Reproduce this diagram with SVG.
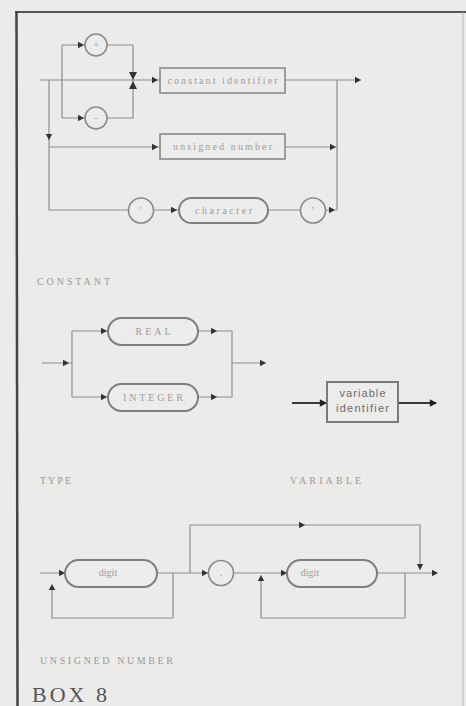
<svg xmlns="http://www.w3.org/2000/svg" width="466" height="706" viewBox="0 0 466 706">
<style>
.ln{fill:none;stroke:#8e8e8e;stroke-width:1.2}
.dk{fill:none;stroke:#3a3a3a;stroke-width:1.8}
.bx{fill:#ececeb;stroke:#8a8a8a;stroke-width:1.6}
.rb{fill:#ececeb;stroke:#7e7e7e;stroke-width:2}
.t{font-family:"Liberation Serif",serif;font-size:10px;fill:#9c9c9c;text-anchor:middle}
.lab{font-family:"Liberation Serif",serif;font-size:10px;fill:#9a9a9a}
.vt{font-family:"Liberation Sans",sans-serif;font-size:11px;fill:#6a6a6a;text-anchor:middle}
.ah{fill:#333}
</style>
<defs>
<path id="ah" d="M0,0 L-6,-3.2 L-6,3.2 Z"/>
</defs>
<rect x="0" y="0" width="466" height="706" fill="#ebebe9"/>
<g id="frame">
<line x1="15" y1="12" x2="466" y2="12" stroke="#555" stroke-width="2"/>
<line x1="16.5" y1="11" x2="17.5" y2="706" stroke="#444" stroke-width="2.5"/>
<line x1="463" y1="12" x2="463" y2="706" stroke="#b4b4b4" stroke-width="1"/>
</g>
<g id="connectors">
<!-- CONSTANT -->
<path class="ln" d="M40,80 H160"/>
<path class="ln" d="M62,45 V118 M62,45 H85 M62,118 H85"/>
<path class="ln" d="M107,45 H133 V118 H107"/>
<path class="ln" d="M285,80 H361"/>
<path class="ln" d="M337,80 V210"/>
<path class="ln" d="M49,80 V210 H128"/>
<path class="ln" d="M49,147 H160 M285,147 H337"/>
<path class="ln" d="M153.5,210 H179 M268,210 H300.5 M325.5,210 H337"/>
<path class="ah" d="M129,72 H137 L133,80 Z M129,89 H137 L133,81 Z"/>
<use href="#ah" class="ah" transform="translate(84,45)"/>
<use href="#ah" class="ah" transform="translate(84,118)"/>
<use href="#ah" class="ah" transform="translate(158,80)"/>
<use href="#ah" class="ah" transform="translate(361,80)"/>
<use href="#ah" class="ah" transform="translate(49,140) rotate(90)"/>
<use href="#ah" class="ah" transform="translate(158,147)"/>
<use href="#ah" class="ah" transform="translate(336,147)"/>
<use href="#ah" class="ah" transform="translate(177,210)"/>
<use href="#ah" class="ah" transform="translate(335,210)"/>
<!-- TYPE -->
<path class="ln" d="M42,363 H72 M72,331 V397 M72,331 H108 M72,397 H108"/>
<path class="ln" d="M198,331 H232 V397 H198 M232,363 H266"/>
<use href="#ah" class="ah" transform="translate(69,363)"/>
<use href="#ah" class="ah" transform="translate(107,331)"/>
<use href="#ah" class="ah" transform="translate(107,397)"/>
<use href="#ah" class="ah" transform="translate(217,331)"/>
<use href="#ah" class="ah" transform="translate(217,397)"/>
<use href="#ah" class="ah" transform="translate(266,363)"/>
<!-- VARIABLE -->
<path class="dk" d="M292,403 H327 M398,403 H436"/>
<use href="#ah" transform="translate(327,403) scale(1.2)" fill="#222"/>
<use href="#ah" transform="translate(437,403) scale(1.2)" fill="#222"/>
<!-- UNSIGNED NUMBER -->
<path class="ln" d="M40,573 H65 M157,573 H208.5"/>
<path class="ln" d="M173,573 V618 H52 V586"/>
<path class="ln" d="M190,573 V525 H420 V570"/>
<path class="ln" d="M233.5,573 H287 M377,573 H437"/>
<path class="ln" d="M405,573 V618 H261 V577"/>
<use href="#ah" class="ah" transform="translate(65,573)"/>
<use href="#ah" class="ah" transform="translate(52,584) rotate(-90)"/>
<use href="#ah" class="ah" transform="translate(305,525)"/>
<use href="#ah" class="ah" transform="translate(420,570) rotate(90)"/>
<use href="#ah" class="ah" transform="translate(208,573)"/>
<use href="#ah" class="ah" transform="translate(287,573)"/>
<use href="#ah" class="ah" transform="translate(261,575) rotate(-90)"/>
<use href="#ah" class="ah" transform="translate(438,573)"/>
</g>
<g id="plus"><circle class="bx" cx="96" cy="45" r="11"/><text class="t" x="96" y="48">+</text></g>
<g id="minus"><circle class="bx" cx="96" cy="118" r="11"/><text class="t" x="96" y="121">-</text></g>
<g id="constant-identifier"><rect class="bx" x="160" y="68" width="125" height="25"/><text class="t" x="222.5" y="84" textLength="110" lengthAdjust="spacing">constant identifier</text></g>
<g id="unsigned-number"><rect class="bx" x="160" y="134" width="125" height="25"/><text class="t" x="222.5" y="150" textLength="99" lengthAdjust="spacing">unsigned number</text></g>
<g id="quote-open"><circle class="bx" cx="141" cy="210.5" r="12.5"/><text class="t" x="141" y="214">'</text></g>
<g id="character"><rect class="rb" x="179" y="198" width="89" height="25" rx="12.5"/><text class="t" x="223.5" y="214" textLength="57" lengthAdjust="spacing">character</text></g>
<g id="quote-close"><circle class="bx" cx="313" cy="210.5" r="12.5"/><text class="t" x="313" y="214">'</text></g>
<text class="lab" x="37" y="285" textLength="73" lengthAdjust="spacing">CONSTANT</text>
<g id="real"><rect class="rb" x="108" y="318" width="90" height="27" rx="13.5"/><text class="t" x="153" y="335" textLength="35" lengthAdjust="spacing">REAL</text></g>
<g id="integer"><rect class="rb" x="108" y="384" width="90" height="27" rx="13.5"/><text class="t" x="153" y="401" textLength="60" lengthAdjust="spacing">INTEGER</text></g>
<g id="variable-identifier"><rect x="327" y="382" width="71" height="40" fill="#ececeb" stroke="#7a7a7a" stroke-width="2"/><text class="vt" x="362.5" y="397" textLength="46" lengthAdjust="spacing">variable</text><text class="vt" x="362.5" y="412" textLength="53" lengthAdjust="spacing">identifier</text></g>
<text class="lab" x="40" y="484" textLength="31" lengthAdjust="spacing">TYPE</text>
<text class="lab" x="290" y="484" textLength="71" lengthAdjust="spacing">VARIABLE</text>
<g id="digit1"><rect class="rb" x="65" y="560" width="92" height="27" rx="13.5"/><text class="t" x="108" y="576" font-size="8">digit</text></g>
<g id="dot"><circle class="bx" cx="221" cy="573" r="12.5"/><text class="t" x="221" y="576">.</text></g>
<g id="digit2"><rect class="rb" x="287" y="560" width="90" height="27" rx="13.5"/><text class="t" x="310" y="576" font-size="8">digit</text></g>
<text class="lab" x="40" y="664" textLength="133" lengthAdjust="spacing">UNSIGNED NUMBER</text>
<text x="32" y="702" font-family="Liberation Serif,serif" font-size="22" fill="#555" textLength="75" lengthAdjust="spacing">BOX 8</text>
</svg>
